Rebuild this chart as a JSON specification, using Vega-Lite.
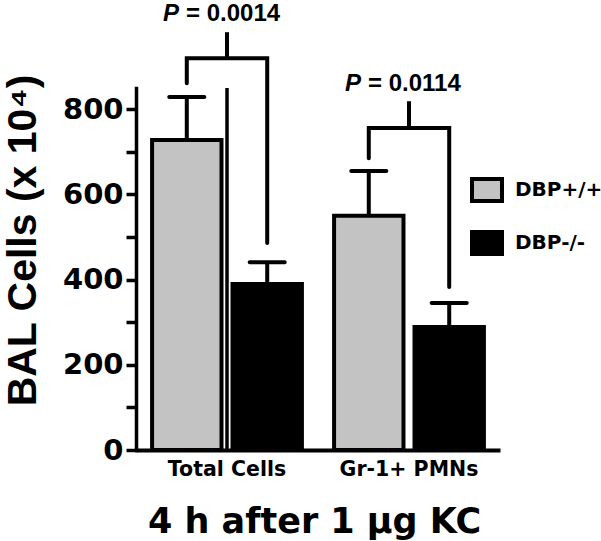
{
  "$schema": "https://vega.github.io/schema/vega-lite/v6.json",
  "width": 364,
  "height": 362,
  "autosize": {"type": "none"},
  "padding": {"left": 136, "top": 88, "right": 101, "bottom": 91},
  "background": "white",
  "config": {
    "view": {"stroke": null}
  },
  "datasets": {
    "bars": [
      {"group": "Total Cells", "genotype": "DBP+/+", "mean": 728, "upper": 829},
      {"group": "Total Cells", "genotype": "DBP-/-", "mean": 390, "upper": 441},
      {"group": "Gr-1+ PMNs", "genotype": "DBP+/+", "mean": 550, "upper": 655},
      {"group": "Gr-1+ PMNs", "genotype": "DBP-/-", "mean": 289, "upper": 345}
    ],
    "bracket": [
      {"group": "Total Cells", "genotype": "DBP+/+", "by": 861, "ord": 1},
      {"group": "Total Cells", "genotype": "DBP+/+", "by": 920, "ord": 2},
      {"group": "Total Cells", "genotype": "DBP-/-", "by": 920, "ord": 3},
      {"group": "Total Cells", "genotype": "DBP-/-", "by": 486, "ord": 4},
      {"group": "Gr-1+ PMNs", "genotype": "DBP+/+", "by": 685, "ord": 1},
      {"group": "Gr-1+ PMNs", "genotype": "DBP+/+", "by": 756, "ord": 2},
      {"group": "Gr-1+ PMNs", "genotype": "DBP-/-", "by": 756, "ord": 3},
      {"group": "Gr-1+ PMNs", "genotype": "DBP-/-", "by": 383, "ord": 4}
    ],
    "sig": [
      {"group": "Total Cells", "level": 920, "top": 981, "label": "= 0.0014", "labelY": 1007},
      {"group": "Gr-1+ PMNs", "level": 756, "top": 819, "label": "= 0.0114", "labelY": 843}
    ],
    "axisline": [
      {"group": "Total Cells", "lo": 0, "hi": 850}
    ]
  },
  "layer": [
    {
      "data": {"name": "bars"},
      "mark": {"type": "bar", "stroke": "black", "strokeWidth": 4},
      "encoding": {
        "x": {
          "field": "group", "type": "nominal", "sort": null,
          "scale": {"domain": ["Total Cells", "Gr-1+ PMNs"], "paddingInner": 0, "paddingOuter": 0},
          "axis": {
            "title": "4 h after 1 µg KC",
            "titleFont": "DejaVu Sans", "titleFontWeight": "bold", "titleFontSize": 35, "titleColor": "black",
            "titleBaseline": "alphabetic", "titleAlign": "center", "titleX": 178, "titleY": 82,
            "labelFont": "DejaVu Sans", "labelFontWeight": "bold", "labelFontSize": 20.5, "labelColor": "black",
            "labelAngle": 0, "labelBaseline": "alphabetic", "labelPadding": 25,
            "ticks": false, "tickSize": 0,
            "domain": true, "domainColor": "black", "domainWidth": 4,
            "zindex": 1
          }
        },
        "xOffset": {
          "field": "genotype", "type": "nominal", "sort": null,
          "scale": {"domain": ["DBP+/+", "DBP-/-"], "paddingInner": 0.137, "paddingOuter": 0.2}
        },
        "y": {
          "field": "mean", "type": "quantitative",
          "scale": {"domain": [0, 850], "nice": false, "zero": true},
          "axis": {
            "title": "BAL Cells (x 10⁴)",
            "titleFont": "Liberation Sans", "titleFontWeight": "bold", "titleFontSize": 41, "titleColor": "black",
            "titleAngle": 270, "titleAlign": "center", "titleBaseline": "alphabetic", "titleX": -101, "titleY": 152,
            "values": [0, 50, 100, 150, 200, 250, 300, 350, 400, 450, 500, 550, 600, 650, 700, 750, 800],
            "labelExpr": "datum.value % 200 === 0 ? datum.label : ''",
            "labelFont": "DejaVu Sans", "labelFontWeight": "bold", "labelFontSize": 29, "labelColor": "black",
            "labelPadding": 3,
            "tickSize": 10,
            "tickColor": "black", "tickWidth": 3.5,
            "domain": true, "domainColor": "black", "domainWidth": 3.5, "domainCap": "square", "domainOpacity": 1,
            "grid": false,
            "zindex": 1
          }
        },
        "color": {
          "field": "genotype", "type": "nominal",
          "scale": {"domain": ["DBP+/+", "DBP-/-"], "range": ["#c3c3c3", "#000000"]},
          "legend": {
            "title": null, "orient": "none", "legendX": 334, "legendY": 85, "padding": 0,
            "symbolType": "M-1,-0.74H1V0.74H-1Z", "symbolSize": 900,
            "symbolStrokeColor": "black", "symbolStrokeWidth": 4,
            "labelFont": "DejaVu Sans", "labelFontWeight": "bold", "labelFontSize": 20, "labelColor": "black",
            "labelOffset": 11, "rowPadding": 13
          }
        }
      }
    },
    {
      "data": {"name": "axisline"},
      "mark": {"type": "bar", "color": "black", "width": 3.5, "opacity": 1},
      "encoding": {
        "x": {"field": "group", "type": "nominal", "sort": null, "bandPosition": 0},
        "y": {"field": "lo", "type": "quantitative"},
        "y2": {"field": "hi"}
      }
    },
    {
      "data": {"name": "bars"},
      "mark": {"type": "rule", "color": "black", "strokeWidth": 4},
      "encoding": {
        "x": {"field": "group", "type": "nominal", "sort": null},
        "xOffset": {"field": "genotype", "type": "nominal", "sort": null},
        "y": {"field": "mean", "type": "quantitative"},
        "y2": {"field": "upper"}
      }
    },
    {
      "data": {"name": "bars"},
      "mark": {"type": "tick", "color": "black", "opacity": 1, "orient": "horizontal", "size": 39, "thickness": 4, "cornerRadius": 2},
      "encoding": {
        "x": {"field": "group", "type": "nominal", "sort": null},
        "xOffset": {"field": "genotype", "type": "nominal", "sort": null},
        "y": {"field": "upper", "type": "quantitative"}
      }
    },
    {
      "data": {"name": "bracket"},
      "mark": {"type": "line", "color": "black", "strokeWidth": 4, "strokeJoin": "miter", "strokeCap": "round"},
      "encoding": {
        "x": {"field": "group", "type": "nominal", "sort": null},
        "xOffset": {"field": "genotype", "type": "nominal", "sort": null},
        "y": {"field": "by", "type": "quantitative"},
        "detail": {"field": "group"},
        "order": {"field": "ord", "type": "quantitative"}
      }
    },
    {
      "data": {"name": "sig"},
      "mark": {"type": "rule", "color": "black", "strokeWidth": 4},
      "encoding": {
        "x": {"field": "group", "type": "nominal", "sort": null},
        "y": {"field": "level", "type": "quantitative"},
        "y2": {"field": "top"}
      }
    },
    {
      "data": {"name": "sig"},
      "mark": {"type": "text", "text": "P", "font": "Liberation Sans", "fontWeight": "bold", "fontStyle": "italic", "fontSize": 24, "align": "right", "baseline": "alphabetic", "dx": -48, "color": "black"},
      "encoding": {
        "x": {"field": "group", "type": "nominal", "sort": null},
        "y": {"field": "labelY", "type": "quantitative"}
      }
    },
    {
      "data": {"name": "sig"},
      "mark": {"type": "text", "font": "Liberation Sans", "fontWeight": "bold", "fontSize": 24, "align": "left", "baseline": "alphabetic", "dx": -41, "color": "black"},
      "encoding": {
        "x": {"field": "group", "type": "nominal", "sort": null},
        "y": {"field": "labelY", "type": "quantitative"},
        "text": {"field": "label"}
      }
    }
  ]
}
